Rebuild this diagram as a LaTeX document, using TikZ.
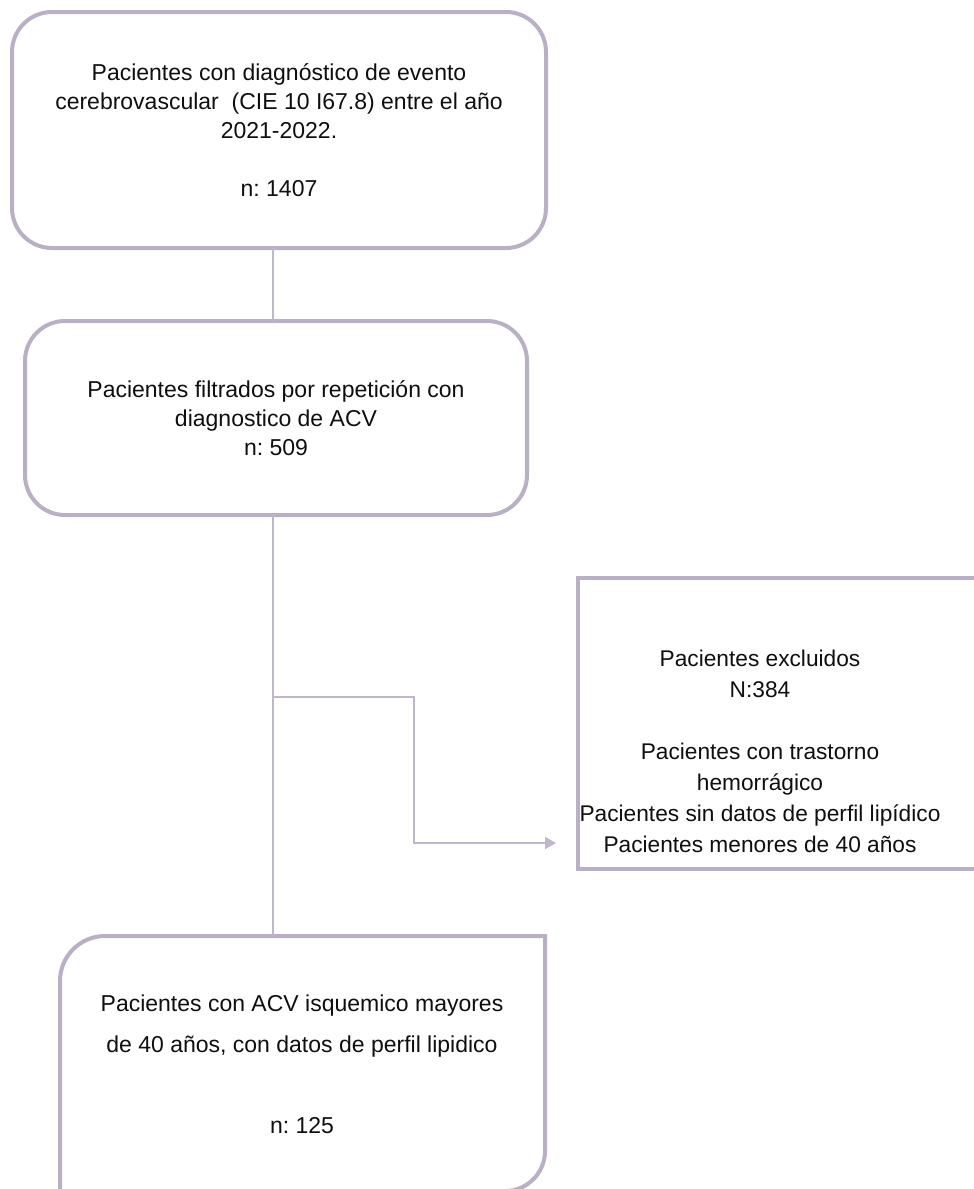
\documentclass[tikz,border=0pt]{standalone}
\usepackage{fontspec}
\setmainfont{Liberation Sans}
\usetikzlibrary{arrows.meta,calc}
\definecolor{boxline}{RGB}{186,176,198}
\definecolor{conline}{RGB}{192,183,204}
\definecolor{txt}{RGB}{15,15,15}
\frenchspacing
\begin{document}
\begin{tikzpicture}[x=1pt,y=-1pt,
  boxpath/.style={draw=boxline, line width=4pt},
  box/.style={boxpath, rounded corners=40pt, align=center, text=txt, inner sep=0pt, outer sep=0pt},
  anchorbox/.style={inner sep=0pt, outer sep=0pt},
  lbl/.style={align=center, inner sep=0pt, text=txt},
  conn/.style={draw=conline, line width=1.5pt},
  fa/.style={font=\fontsize{23}{29}\selectfont},
  fb/.style={font=\fontsize{22.7}{31}\selectfont},
  fc/.style={font=\fontsize{23}{40.5}\selectfont}]
\useasboundingbox (0,0) rectangle (974,1189);
\clip (0,0) rectangle (974,1189);
\fill[white] (0,0) rectangle (974,1189);

% box 1
\node[box, fa, minimum width=534pt, minimum height=236pt] (b1) at (279,130)
  {Pacientes con diagnóstico de evento\\cerebrovascular\ \ (CIE 10 I67.8) entre el año\\2021-2022.\\[29pt]n: 1407};

% box 2
\node[box, fa, minimum width=502pt, minimum height=194pt] (b2) at (276,418)
  {Pacientes filtrados por repetición con\\diagnostico de ACV\\n: 509};

% box 3 (square corners, cut by right edge)
\node[anchorbox, boxpath, minimum width=420pt, minimum height=291pt] (b3) at (788,723.5) {};
\node[lbl, fb] (t3) at (760,751.5)
  {Pacientes excluidos\\N:384\\[31pt]Pacientes con trastorno\\hemorrágico\\Pacientes sin datos de perfil lipídico\\Pacientes menores de 40 años};

% box 4 (mixed corners, cut by bottom edge)
\node[anchorbox, minimum width=485pt, minimum height=255pt] (b4) at (302.5,1063.5) {};
\draw[boxpath] (b4.south west) [rounded corners=45pt] -- (b4.north west) [sharp corners] -- (b4.north east)
  [rounded corners=40pt] -- (b4.south east) [sharp corners] -- (b4.south west) -- cycle;
\node[lbl, fc] (t4) at (302,1064.5)
  {Pacientes con ACV isquemico mayores\\de 40 años, con datos de perfil lipidico\\[40.5pt]n: 125};

% connectors
\coordinate (tx) at (273,0);
\coordinate (j) at (273,697);
\coordinate (k) at (414,697);
\coordinate (ae) at (556,843);
\draw[conn] (b1.south -| tx) -- (b2.north -| tx);
\draw[conn] (b2.south -| tx) -- (b4.north -| tx);
\draw[conn, -{Triangle[length=11pt,width=12pt]}] (j) -- (k) |- (ae);
\end{tikzpicture}
\end{document}
